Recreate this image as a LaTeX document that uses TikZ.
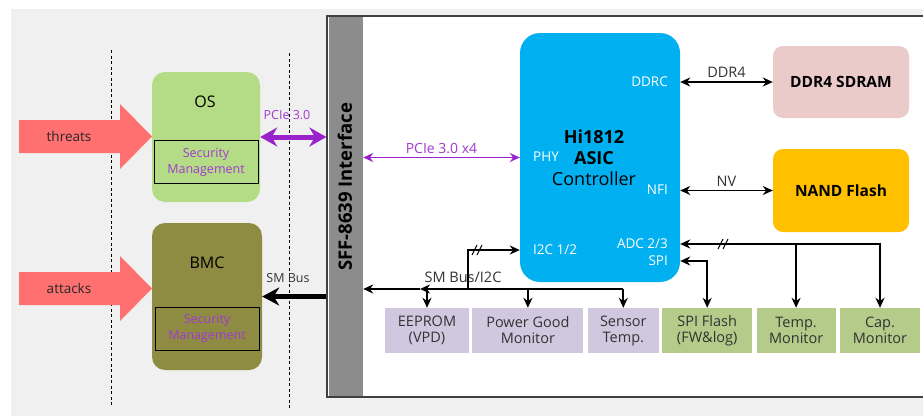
\documentclass[tikz,border=0pt]{standalone}
\usepackage{fontspec}
\setmainfont{Open Sans}
\usetikzlibrary{arrows.meta,positioning}
\definecolor{bgc}{HTML}{F0F0F0}
\definecolor{stripc}{HTML}{8C8C8C}
\definecolor{osc}{HTML}{B4DC86}
\definecolor{bmcc}{HTML}{8E8B42}
\definecolor{threatc}{HTML}{FF7171}
\definecolor{purp}{HTML}{9A22CC}
\definecolor{purtxt}{HTML}{A23AD2}
\definecolor{asicc}{HTML}{00B0F0}
\definecolor{sdramc}{HTML}{EBCBCA}
\definecolor{nandc}{HTML}{FFC000}
\definecolor{lavc}{HTML}{D0C8DF}
\definecolor{grnc}{HTML}{B4CB89}
\definecolor{txtc}{HTML}{333333}

\begin{document}
\begin{tikzpicture}[x=1pt,y=-1pt,>={Stealth[length=10pt,width=9pt]},
 lbl/.style={text=txtc,font=\fontsize{12.5}{15}\selectfont},
 port/.style={text=white,inner sep=0pt,font=\fontsize{13.5}{15}\selectfont},
 ubox/.style={minimum width=#1,minimum height=45,inner sep=0pt,align=center,text=txtc,font=\fontsize{14.5}{16}\selectfont},
 chip/.style={rounded corners=10,minimum width=136,inner sep=0pt,text=black,font=\fontsize{15.5}{17}\selectfont\bfseries},
 host/.style={rounded corners=13,minimum width=108,inner sep=0pt},
 secbox/.style={draw=black,line width=0.9pt,minimum width=104,minimum height=43,inner sep=0pt,align=center,text=purtxt,font=\fontsize{12.5}{16}\selectfont},
 wire/.style={line width=1.8pt},
 fat/.style={line width=5pt}]
\useasboundingbox (0,0) rectangle (923,416);
\fill[white] (0,0) rectangle (923,416);
\fill[bgc] (11,9) rectangle (923,416);
% card outline and connector strip
\node[draw=black!75,line width=1.2pt,fill=white,minimum width=600,minimum height=381,inner sep=0pt] (panel) at (627,206.5) {};
\node[fill=stripc,minimum width=34,minimum height=379,inner sep=0pt] (sff) at (346,206.5) {};
\node[rotate=90,font=\fontsize{18.5}{20}\selectfont\bfseries] (sfflbl) at (345,187) {SFF-8639 Interface};
% host side
\foreach \dx/\ya/\yb in {111/50/407,289/53/410}
 \draw[dash pattern=on 3pt off 2.5pt,line width=0.8pt] (\dx,\ya) -- (\dx,\yb);
\foreach \ty/\tname in {136.5/threats,288.5/attacks}
 {\fill[threatc] (19,\ty-16.5) -- (120,\ty-16.5) -- (120,\ty-32.5) -- (152,\ty) -- (120,\ty+32.5) -- (120,\ty+16.5) -- (19,\ty+16.5) -- cycle;
  \node[text=black!85,font=\fontsize{13.5}{15}\selectfont] (\tname) at (69,\ty) {\tname};}
\node[host,fill=osc,minimum height=130] (os) at (206,137) {};
\node[font=\fontsize{16}{18}\selectfont] (oslbl) at (205,102) {OS};
\node[secbox] (ossec) at (206,162) {Security\\Management};
\node[host,fill=bmcc,minimum width=110,minimum height=147] (bmc) at (207,296.5) {};
\node[font=\fontsize{16}{18}\selectfont] (bmclbl) at (207,263) {BMC};
\node[secbox] (bmcsec) at (207,328.5) {Security\\Management};
\draw[fat,purp,{Stealth[length=17pt,width=19pt]}-{Stealth[length=17pt,width=19pt]}] (os.east) -- (os.east -| panel.west);
\node[lbl,text=purtxt] (pcie) at (287,115) {PCIe 3.0};
\draw[fat,-{Stealth[length=17pt,width=18pt]}] (bmc.east -| panel.west) -- (bmc.east);
\node[lbl] (smbus) at (288,278) {SM Bus};
% controller
\node[rounded corners=20,fill=asicc,minimum width=160,minimum height=249,inner sep=0pt] (asic) at (600,157.5) {};
\node[align=center,font=\fontsize{18}{21}\selectfont] (asiclbl) at (594,158) {\textbf{Hi1812}\\\textbf{ASIC}\\Controller};
\node[port,anchor=west] (phy) at (533,157) {PHY};
\node[port,anchor=west] (i2c) at (533,250) {I2C 1/2};
\node[port,anchor=east] (ddrc) at (668,82) {DDRC};
\node[port,anchor=east] (nfi) at (668,190) {NFI};
\node[port,anchor=east] (adc) at (668,244) {ADC 2/3};
\node[port,anchor=east] (spi) at (668,261) {SPI};
\node[chip,fill=sdramc,minimum height=72] (sdram) at (841,82) {DDR4 SDRAM};
\node[chip,fill=nandc,minimum height=83] (nand) at (841,190.5) {NAND Flash};
\draw[wire,purp,<->] (sff.east |- asic) -- (asic.west) node[midway,above,text=purtxt,font=\fontsize{14}{15}\selectfont] (pciex4) {PCIe 3.0 x4};
\draw[wire,<->] (asic.east |- sdram) -- (sdram.west) node[midway,above,lbl,font=\fontsize{14.5}{16}\selectfont] (ddr4) {DDR4};
\draw[wire,<->] (asic.east |- nand) -- (nand.west) node[midway,above,lbl,font=\fontsize{14.5}{16}\selectfont] (nv) {NV};
% peripherals
\node[ubox=84,fill=lavc] (eeprom) at (427,330.5) {EEPROM\\(VPD)};
\node[ubox=111,fill=lavc,right=3pt of eeprom] (pgood) {Power Good\\Monitor};
\node[ubox=71,fill=lavc,right=4pt of pgood] (sensor) {Sensor\\Temp.};
\node[ubox=90,fill=grnc,right=3pt of sensor] (spiflash) {SPI Flash\\(FW\&log)};
\node[ubox=79,fill=grnc,right=4pt of spiflash] (tempmon) {Temp.\\Monitor};
\node[ubox=80,fill=grnc,right=4pt of tempmon] (capmon) {Cap.\\Monitor};
\coordinate (jbus) at (468,289);
\node[lbl,font=\fontsize{14.5}{16}\selectfont] (buslbl) at (463,277) {SM Bus/I2C};
\draw[wire,->] (sensor.north |- jbus) -- ([xshift=-7pt]eeprom.north |- jbus);
\draw[wire,->] ([xshift=-7pt]eeprom.north |- jbus) -- (sff.east |- jbus);
\draw[wire,->] (jbus) |- (asic.west |- i2c);
\foreach \n in {eeprom,pgood,sensor}
 \draw[wire,->] (\n.north |- jbus) -- (\n.north);
\draw[wire,<->] (asic.east |- adc) -| (capmon.north);
\draw[wire,->] (tempmon.north |- adc) -- (tempmon.north);
\draw[wire,<->] (asic.east |- spi) -| (spiflash.north);
\foreach \mx/\my in {477/250,723/244}
 \foreach \dd in {-2.5,2.5}
  \draw[line width=1pt] (\mx+\dd-2.5,\my+5) -- (\mx+\dd+2.5,\my-5);
\end{tikzpicture}
\end{document}
